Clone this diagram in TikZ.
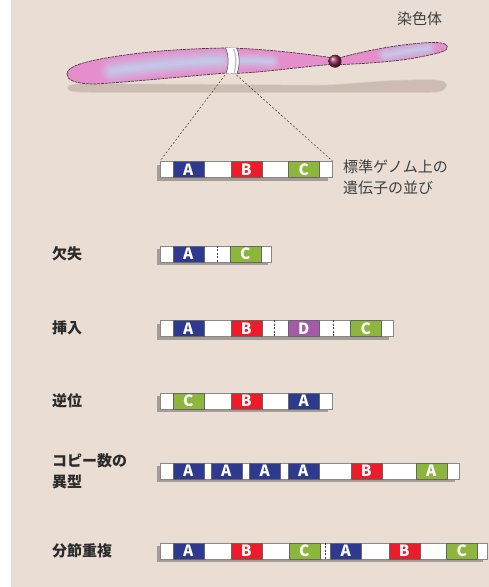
\documentclass[tikz,border=0pt]{standalone}
\usepackage{fontspec}
\setmainfont{Noto Sans CJK JP}
\definecolor{bg}{HTML}{E9DDD4}
\definecolor{geneA}{HTML}{2E3A8F}
\definecolor{geneB}{HTML}{EC1C2A}
\definecolor{geneC}{HTML}{8DB63C}
\definecolor{geneD}{HTML}{A35AA8}
\definecolor{barline}{HTML}{8A8785}
\definecolor{barshadow}{HTML}{A69C98}
\definecolor{ink}{HTML}{2B2B2B}
\definecolor{chrpink}{HTML}{E48ECB}
\definecolor{chrblue}{HTML}{BCDDF3}
\definecolor{chrshadow}{HTML}{CDBCB2}
\definecolor{chrline}{HTML}{4A4044}
\definecolor{centro}{HTML}{8E2A55}

% a bar of the genome: name, left x, right x, top y
\newcommand\genebar[4]{%
  \fill[barshadow] (#2-3.5,#4+3.5) rectangle (#3-3.5,#4+19.5);
  \pgfmathsetmacro\bw{#3-#2}%
  \node[barbox, minimum width=\bw pt] (#1) at (#2,#4) {};}
% a gene block: name, left x, right x, top y, colour, letter
\newcommand\geneblk[6]{%
  \pgfmathsetmacro\gw{#3-#2}%
  \node[geneblock, fill=#5, minimum width=\gw pt] (#1) at (#2,#4) {#6};}
% a break point inside a bar: x, top y
\newcommand\cutmark[2]{\draw[cutline] (#1,#2) -- (#1,#2+16);}

\begin{document}
\begin{tikzpicture}[x=1pt,y=-1pt,
  barbox/.style={draw=barline, fill=white, line width=0.9pt, inner sep=0pt,
    minimum height=16pt, anchor=north west},
  geneblock/.style={draw=black!60, line width=0.6pt, inner sep=0pt,
    minimum height=16pt, text=white, anchor=north west,
    font=\bfseries\fontsize{15.5}{15.5}\selectfont},
  cutline/.style={draw=black!75, line width=0.7pt, dash pattern=on 2pt off 1.5pt},
  guide/.style={draw=black!70, line width=0.6pt, dash pattern=on 2pt off 2pt},
  rowlabel/.style={font=\bfseries\fontsize{15}{21}\selectfont, text=ink,
    anchor=west, align=left, inner sep=0pt},
  note/.style={font=\fontsize{15}{20.5}\selectfont, text=ink!90,
    anchor=west, align=left, inner sep=0pt}]

\useasboundingbox (0,0) rectangle (489,587);
\fill[white] (0,0) rectangle (489,587);
\fill[bg] (11,0) rectangle (489,587);

% ---- chromosome ----
% soft shadow on the ground
\def\shadowpath{(68,88) .. controls (68,84.5) and (75,84) .. (90,84)
  -- (320,85.5) .. controls (350,85) and (380,80) .. (430,80)
  .. controls (445,80) and (447,84) .. (446,86)
  .. controls (445,90) and (440,92) .. (430,92)
  -- (90,92) .. controls (75,92) and (68,91) .. (68,88) -- cycle}
\fill[chrshadow, draw=chrshadow, line width=1.5pt, draw opacity=0.5] \shadowpath;

\def\chrpath{(67,74) .. controls (67,66) and (85,60) .. (138,53.3)
  .. controls (165,50) and (200,48.3) .. (226,48)
  .. controls (260,48.5) and (300,53) .. (330,57.5)
  -- (341,57.5) .. controls (360,52) and (400,43.5) .. (432,42.5)
  .. controls (444,42) and (449,45) .. (447,48.5)
  .. controls (445,52.5) and (430,55) .. (413,58.3)
  .. controls (395,61.5) and (360,64) .. (341,64.5)
  -- (330,64.5) .. controls (300,67) and (262,72.5) .. (237,73.3)
  -- (226,73) .. controls (190,76) and (130,82) .. (95,84)
  .. controls (75,84) and (67,80) .. (67,74) -- cycle}

\fill[chrpink] \chrpath;
\begin{scope}
  \clip \chrpath;
  \foreach \w/\o in {24/0.12,20/0.14,16/0.16,12/0.2,8/0.25,4/0.3}{
    \draw[chrblue, line width=\w pt, opacity=\o, line cap=round]
      (112,71) .. controls (145,66) and (190,61) .. (222,60.5);
    \draw[chrblue, line width=0.7*\w pt, opacity=\o, line cap=round]
      (240,60.5) .. controls (255,60.5) and (265,61) .. (272,61.5);
    \draw[chrblue, line width=0.7*\w pt, opacity=\o, line cap=round]
      (385,55) .. controls (400,52.5) and (415,50) .. (428,48.5);
  }
\end{scope}
\draw[chrline, line width=0.7pt, dash pattern=on 3pt off 0.8pt] \chrpath;

% pale band where the close-up is taken
\fill[white] (225.5,48) .. controls (229,55) and (229,66) .. (226,73.2)
  -- (237,73.4) .. controls (240,66) and (240,55) .. (236.5,48) -- cycle;
\draw[black!25, line width=1.2pt] (233.5,49) .. controls (236.5,56) and (236.5,66) .. (234,72.5);
\draw[chrline, line width=0.5pt] (225.5,48) .. controls (229,55) and (229,66) .. (226,73.2);
\draw[chrline, line width=0.5pt] (236.5,48) .. controls (240,55) and (240,66) .. (237,73.4);

% centromere
\shade[ball color=centro] (335,61.2) circle (6.5pt);

\node[note] (chrname) at (397,19) {染色体};

\coordinate (bandL) at (225,75);
\coordinate (bandR) at (236.5,75);

% ---- reference order ----
\genebar{std}{160}{331.5}{161}
\geneblk{stdA}{172.5}{203.5}{161}{geneA}{A}
\geneblk{stdB}{230.5}{261.5}{161}{geneB}{B}
\geneblk{stdC}{288}{319}{161}{geneC}{C}
\draw[guide] (bandL) -- (std.north west);
\draw[guide] (bandR) -- (std.north east);
\node[note] (stdtext) at (343,177.5) {標準ゲノム上の\\遺伝子の並び};

% ---- deletion ----
\node[rowlabel] (dellabel) at (52,254) {欠失};
\genebar{del}{160}{271}{245.5}
\geneblk{delA}{172.5}{203.5}{245.5}{geneA}{A}
\cutmark{217}{245.5}
\geneblk{delC}{229.5}{260.5}{245.5}{geneC}{C}

% ---- insertion ----
\node[rowlabel] (inslabel) at (52,327.5) {挿入};
\genebar{ins}{160}{392.5}{320}
\geneblk{insA}{172.5}{203.5}{320}{geneA}{A}
\geneblk{insB}{230.5}{261.5}{320}{geneB}{B}
\cutmark{274.5}{320}
\geneblk{insD}{288}{319}{320}{geneD}{D}
\cutmark{333.5}{320}
\geneblk{insC}{350}{381}{320}{geneC}{C}

% ---- inversion ----
\node[rowlabel] (invlabel) at (52,400.5) {逆位};
\genebar{inv}{160}{331.5}{392.5}
\geneblk{invC}{172.5}{203.5}{392.5}{geneC}{C}
\geneblk{invB}{230.5}{261.5}{392.5}{geneB}{B}
\geneblk{invA}{288}{319}{392.5}{geneA}{A}

% ---- copy number variation ----
\node[rowlabel] (cnvlabel) at (52,471.5) {コピー数の\\異型};
\genebar{cnv}{160}{458.5}{462.5}
\geneblk{cnvA1}{172.5}{203.5}{462.5}{geneA}{A}
\geneblk{cnvA2}{210.5}{241.5}{462.5}{geneA}{A}
\geneblk{cnvA3}{249}{280}{462.5}{geneA}{A}
\geneblk{cnvA4}{287.5}{318.5}{462.5}{geneA}{A}
\geneblk{cnvB}{350.5}{381.5}{462.5}{geneB}{B}
\geneblk{cnvA5}{415.5}{446.5}{462.5}{geneC}{A}

% ---- segmental duplication ----
\node[rowlabel] (duplabel) at (52,550.5) {分節重複};
\genebar{dup}{160}{486.5}{542.5}
\geneblk{dupA1}{172.5}{203.5}{542.5}{geneA}{A}
\geneblk{dupB1}{230.5}{261.5}{542.5}{geneB}{B}
\geneblk{dupC1}{288.5}{319.5}{542.5}{geneC}{C}
\cutmark{325}{542.5}
\geneblk{dupA2}{330}{361}{542.5}{geneA}{A}
\geneblk{dupB2}{388.5}{419.5}{542.5}{geneB}{B}
\geneblk{dupC2}{446}{477}{542.5}{geneC}{C}
\end{tikzpicture}
\end{document}
